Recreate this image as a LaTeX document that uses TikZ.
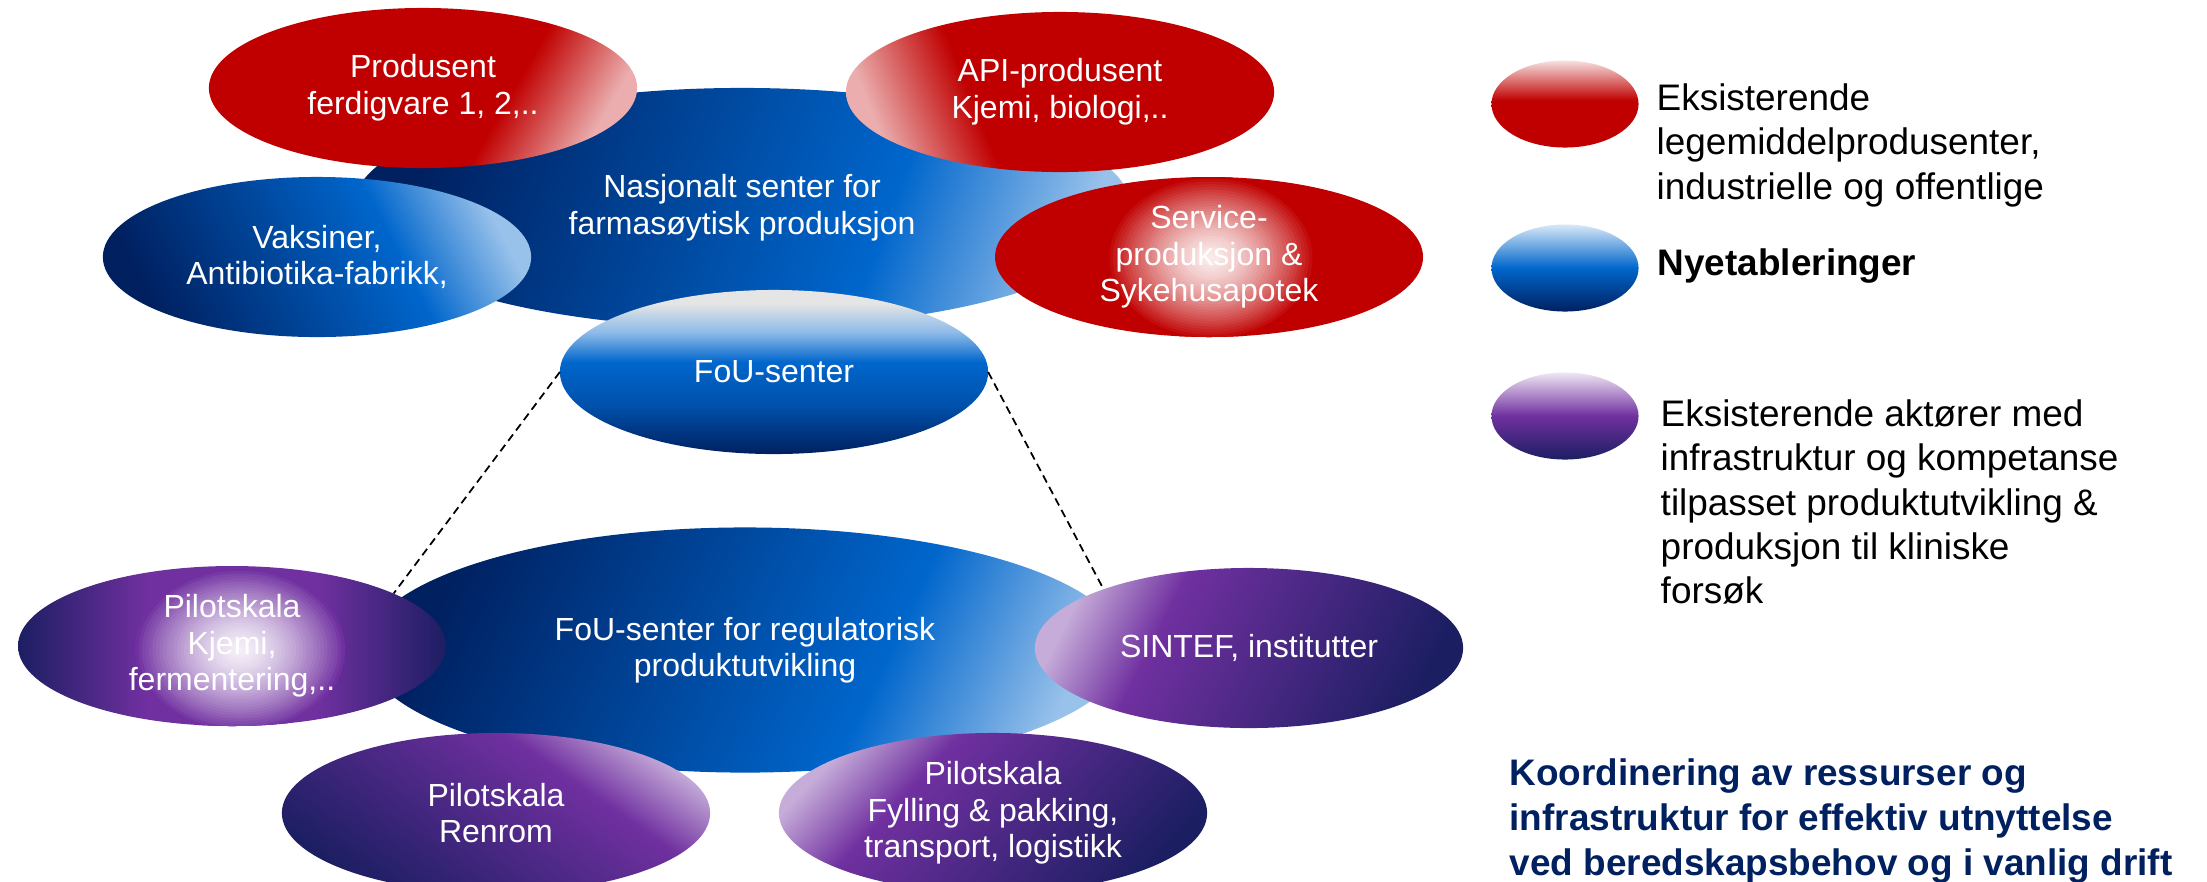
\documentclass[tikz,border=0pt]{standalone}
\usepackage{fontspec}
\setmainfont{Liberation Sans}
\usepackage{tikz}
\definecolor{main}{RGB}{0,102,204}
\definecolor{second}{RGB}{192,0,0}
\definecolor{third}{RGB}{112,48,160}
\definecolor{fourth}{RGB}{0,32,96}
\definecolor{fifth}{RGB}{28,30,98}
\usetikzlibrary{
	shapes.geometric,
	positioning
}
% shadings
\pgfdeclarehorizontalshading{cstredhl}{100bp}{color(0bp)=(second); color(62bp)=(second); color(76bp)=(second!32!white); color(100bp)=(second!32!white)}
\pgfdeclarehorizontalshading{cstbluehl}{100bp}{color(0bp)=(fourth); color(25bp)=(fourth); color(61bp)=(main); color(76bp)=(main!40!white); color(100bp)=(main!40!white)}
\pgfdeclarehorizontalshading{cstpurphl}{100bp}{color(0bp)=(fifth); color(25bp)=(fifth); color(63bp)=(third); color(76bp)=(third!40!white); color(100bp)=(third!40!white)}
\pgfdeclarehorizontalshading{cstpurpmid}{100bp}{color(0bp)=(fifth); color(25bp)=(fifth); color(40bp)=(third); color(60bp)=(third); color(75bp)=(fifth); color(100bp)=(fifth)}
\pgfdeclareverticalshading{cstbluev}{100bp}{color(0bp)=(fourth); color(25bp)=(fourth); color(40bp)=(main!70!fourth); color(53bp)=(main); color(62bp)=(main!45!white); color(71bp)=(black!10!white); color(100bp)=(black!10!white)}
\pgfdeclareverticalshading{cstkeyred}{100bp}{color(0bp)=(second); color(25bp)=(second); color(52bp)=(second); color(75bp)=(second!12!white); color(100bp)=(second!12!white)}
\pgfdeclareverticalshading{cstkeyblue}{100bp}{color(0bp)=(fourth); color(25bp)=(fourth); color(50bp)=(main); color(75bp)=(main!15!white); color(100bp)=(main!15!white)}
\pgfdeclareverticalshading{cstkeypurp}{100bp}{color(0bp)=(fifth); color(25bp)=(fifth); color(50bp)=(third); color(75bp)=(third!12!white); color(100bp)=(third!12!white)}
% white glow inside an ellipse: colour, ellipse centre, glow centre
\newcommand{\cstglow}[3]{%
	\begin{scope}
		\clip #2 ellipse (214 and 80);
		\foreach \k in {30,29,...,1}{
			\pgfmathtruncatemacro\cstp{8+92*(\k/30)^1.5}
			\fill[#1!\cstp!white] #3 ellipse ({105*\k/30} and {82*\k/30});
		}
	\end{scope}}
\tikzset{
  % node
	cstell/.style    ={ellipse, inner sep=0pt, outer sep=0pt, align=center, text=white,
	                   font=\fontsize{9.1}{10.4}\selectfont, minimum width=4.28cm, minimum height=1.6cm},
	cstbig/.style    ={cstell, minimum width=7.78cm, minimum height=2.4cm},
	cstred/.style    ={cstell, shade, shading=cstredhl},
	cstblue/.style   ={cstell, shade, shading=cstbluehl},
	cstpurp/.style   ={cstell, shade, shading=cstpurphl},
  % key
	cstkey/.style    ={ellipse, inner sep=0pt, minimum width=1.47cm, minimum height=0.87cm, shade},
	csttext/.style   ={anchor=north west, align=left, inner sep=0pt, font=\fontsize{10.5}{12.6}\selectfont},
  % line
	cstdash/.style   ={line width=0.5pt, dash pattern=on 0.08cm off 0.05cm}
}
\begin{document}
\begin{tikzpicture}[x=0.01cm,y=-0.01cm]
	\useasboundingbox (0,0) rectangle (2207,881);
	% centres
	\node[cstbig, shade, shading=cstbluehl, shading angle=-20] (nasj) at (742,208) {Nasjonalt senter for\\farmasøytisk produksjon};
	\node[cstbig, minimum width=7.6cm, minimum height=2.45cm, shade, shading=cstbluehl, shading angle=-25] (fouc) at (745,650) {FoU-senter for regulatorisk\\produktutvikling};
	% top
	\node[cstred, shading angle=-30] (prod) at (423,88) {Produsent\\ferdigvare 1, 2,..};
	\node[cstred, shading angle=202] (api) at (1060,92) {API-produsent\\Kjemi, biologi,..};
	\node[cstblue, shading angle=27] (vaks) at (317,257) {Vaksiner,\\Antibiotika-fabrikk,};
	\fill[second] (1209,257) ellipse (214 and 80);
	\cstglow{second}{(1209,257)}{(1211,258)}
	\node[cstell] (serv) at (1209,257) {Service-\\produksjon \&\\Sykehusapotek};
	\node[cstell, minimum height=1.64cm, shade, shading=cstbluev] (fou) at (774,372) {FoU-senter};
	% bottom
	\shade[shading=cstpurpmid] (232,646) ellipse (214 and 80);
	\cstglow{third}{(232,646)}{(240,650)}
	\node[cstell] (kjemi) at (232,646) {Pilotskala\\Kjemi,\\fermentering,..};
	\node[cstpurp, shading angle=153] (sintef) at (1249,648) {SINTEF, institutter};
	\node[cstpurp, shading angle=55] (renrom) at (496,813) {Pilotskala\\Renrom};
	\node[cstpurp, shading angle=137] (fyll) at (993,813) {Pilotskala\\Fylling \& pakking,\\transport, logistikk};
	\draw[cstdash] (fou.west) -- (kjemi.18);
	\draw[cstdash] (fou.east) -- (sintef.158);
	% key
	\node[cstkey, shading=cstkeyred] (key1) at (1565,104) {};
	\node[cstkey, shading=cstkeyblue] (key2) at (1565,268) {};
	\node[cstkey, shading=cstkeypurp] (key3) at (1565,416) {};
	\node[csttext] (txt1) at (1656,83) {Eksisterende\\legemiddelprodusenter,\\industrielle og offentlige};
	\node[csttext] (txt2) at (1657,248) {\textbf{Nyetableringer}};
	\node[csttext] (txt3) at (1660,399) {Eksisterende aktører med\\infrastruktur og kompetanse\\tilpasset produktutvikling \&\\produksjon til kliniske\\forsøk};
	\node[csttext, text=fourth, font=\bfseries\fontsize{10.5}{12.8}\selectfont] (txt4) at (1509,758) {Koordinering av ressurser og\\infrastruktur for effektiv utnyttelse\\ved beredskapsbehov og i vanlig drift};
\end{tikzpicture}
\end{document}
